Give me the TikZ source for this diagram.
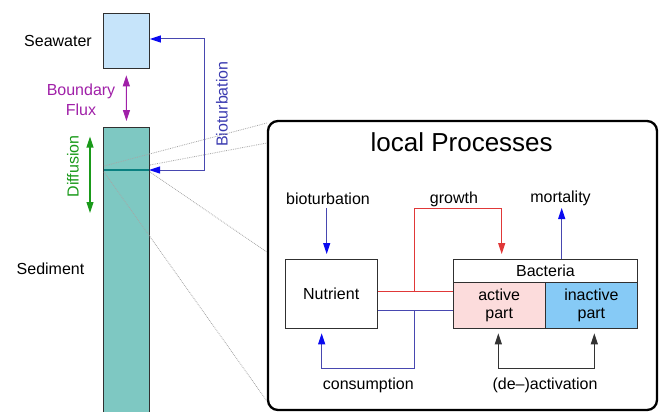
\documentclass[tikz,border=0pt]{standalone}
\usepackage{fontspec}
\setmainfont{Liberation Sans}
\usepackage{tikz}
\usetikzlibrary{arrows.meta}

\definecolor{sea_fill}{HTML}{C6E4FA}
\definecolor{sed_fill}{HTML}{7EC8C2}
\definecolor{sed_line}{HTML}{0A8080}
\definecolor{flux_col}{HTML}{A020A8}
\definecolor{diff_col}{HTML}{1A9A1A}
\definecolor{bio_text}{HTML}{3A3AB0}
\definecolor{blue_line}{HTML}{4848B0}
\definecolor{blue_head}{HTML}{0A0AF0}
\definecolor{red_line}{HTML}{E03838}
\definecolor{act_fill}{HTML}{FCDCDC}
\definecolor{inact_fill}{HTML}{86CAF6}
\definecolor{box_line}{HTML}{303030}

\begin{document}
\begin{tikzpicture}[x=1pt,y=-1pt,
	>={Triangle[length=11pt,width=7pt]},
	box_node/.style={draw=box_line,line width=1.1pt,inner sep=0pt,align=center,font=\fontsize{16}{18}\selectfont},
	label_text/.style={inner sep=0pt,align=center,font=\fontsize{16}{20}\selectfont},
	blue_arrow/.style={draw=blue_line,line width=1pt,-{Triangle[length=11pt,width=7pt,color=blue_head]},shorten >=5pt},
	both_blue/.style={draw=blue_line,line width=1pt,{Triangle[length=11pt,width=7pt,color=blue_head]}-{Triangle[length=11pt,width=7pt,color=blue_head]}},
	dot_line/.style={gray!70,densely dotted,line width=0.8pt}]

	\useasboundingbox (0,0) rectangle (659,412);
	\clip (0,0) rectangle (659,412);

	% water column
	\node[box_node,fill=sea_fill,minimum width=46pt,minimum height=55pt] (seawater) at (126.3,40.8) {};
	\node[box_node,fill=sed_fill,minimum width=46pt,minimum height=303pt] (sediment) at (126.5,278.6) {};
	\coordinate (line_w) at (104,170);
	\coordinate (line_e) at (149,170);
	\draw[sed_line,line width=2.6pt] (line_w) -- (line_e);

	\node[label_text] (sea_label) at (58,41) {Seawater};
	\node[label_text] (sed_label) at (50.5,268.5) {Sediment};
	\node[label_text,text=flux_col] (flux_label) at (81,100) {Boundary\\Flux};
	\node[label_text,text=diff_col,rotate=90] (diff_label) at (73,166.5) {Diffusion};
	\node[label_text,text=bio_text,rotate=90] (bio_label) at (222,104) {Bioturbation};

	\draw[flux_col,line width=1.1pt,<->,shorten <=6.5pt,shorten >=5.5pt] (seawater.south) -- (sediment.north);
	\draw[diff_col,line width=1.1pt,<->] (90,136.5) -- (90,213);
	\draw[both_blue] (seawater.east |- 0,39) -- (204.3,39) -- (204.3,170) -- (line_e);

	% zoom lines
	\node[draw,line width=2.3pt,rounded corners=10pt,minimum width=389pt,minimum height=289pt] (proc_box) at (462.5,265.5) {};
	\draw[dot_line] (104,166) -- (proc_box.west |- 0,123);
	\draw[dot_line] (150,165) -- (proc_box.west |- 0,143);
	\draw[dot_line] (150,172) -- (proc_box.west |- 0,252);
	\draw[dot_line] (104,172) -- (proc_box.west |- 0,401);

	% local processes
	\node[inner sep=0pt,font=\fontsize{26}{30}\selectfont] (title) at (461.7,142.5) {local Processes};

	\node[box_node,minimum width=92.3pt,minimum height=69.3pt] (nutrient) at (331.2,293.7) {Nutrient};
	\node[box_node,minimum width=184.4pt,minimum height=23.3pt] (bacteria) at (545.5,270.7) {Bacteria};
	\node[box_node,fill=act_fill,minimum width=91.7pt,minimum height=46pt] (active) at (499.2,305.3) {active\\part};
	\node[box_node,fill=inact_fill,minimum width=92.7pt,minimum height=46pt] (inactive) at (591.4,305.3) {inactive\\part};

	\node[label_text,anchor=base] (bioturb) at (328,204) {bioturbation};
	\node[label_text,anchor=base] (growth) at (454,203) {growth};
	\node[label_text,anchor=base] (mortality) at (560.5,202) {mortality};
	\node[label_text,anchor=base] (consumption) at (368.3,389) {consumption};
	\node[label_text,anchor=base] (activation) at (545,389.5) {(de--)activation};

	\coordinate (red_y) at (0,291.7);
	\coordinate (blue_y) at (0,310);
	\coordinate (split) at (414,0);
	\coordinate (top_y) at (0,208.3);
	\coordinate (bot_y) at (0,368.3);
	\coordinate (mort_x) at (561.7,0);

	\draw[blue_arrow] (326.7,208) -- (326.7,259);
	\draw[red_line,line width=0.9pt] (nutrient.east |- red_y) -- (active.west |- red_y);
	\draw[red_line,line width=1pt,->,shorten >=5pt] (split |- red_y) -- (split |- top_y) -| (501.7,259);
	\draw[blue_line,line width=0.9pt] (nutrient.east |- blue_y) -- (active.west |- blue_y);
	\draw[blue_arrow] (split |- blue_y) -- (split |- bot_y) -| (321.7,328.3);
	\draw[blue_line,line width=1pt,-{Triangle[length=11pt,width=7pt,color=blue_head]}] (mort_x |- bacteria.north) -- (561.7,208);
	\draw[black!80,line width=1pt,<->,shorten <=5pt,shorten >=5pt] (498.3,328.3) -- (498.3,368.3) -| (594.3,328.3);
\end{tikzpicture}
\end{document}
